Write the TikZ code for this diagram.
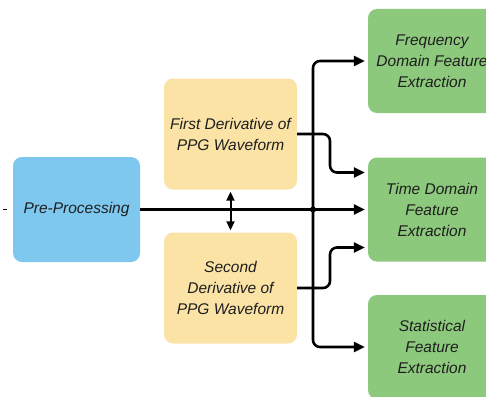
\documentclass[tikz,border=0pt]{standalone}
\usepackage{fontspec}
\setmainfont{Liberation Sans}
\usetikzlibrary{arrows.meta}

\definecolor{preblue}{RGB}{126,200,240}
\definecolor{derivyellow}{RGB}{251,227,166}
\definecolor{featgreen}{RGB}{141,201,124}
\definecolor{inkgray}{RGB}{30,30,30}

\tikzset{
  box/.style={rounded corners=9pt, inner sep=0pt, align=center,
    font=\fontsize{15.5}{21}\selectfont\itshape, text=inkgray},
  prebox/.style={box, fill=preblue, minimum width=127pt, minimum height=105pt},
  derivbox/.style={box, fill=derivyellow, minimum width=133pt, minimum height=111pt},
  featbox/.style={box, fill=featgreen, minimum width=128pt, minimum height=104pt},
  conn/.style={line width=2.6pt, draw=black, rounded corners=7pt,
    -{Triangle[length=11pt,width=10pt]}, shorten >=3pt},
  link/.style={line width=2.6pt, draw=black},
  twoway/.style={line width=2pt, draw=black,
    {Triangle[length=9pt,width=8pt]}-{Triangle[length=9pt,width=8pt]}}
}

\begin{document}
\begin{tikzpicture}[x=1pt,y=-1pt]
  \clip (0,0) rectangle (486,396);
  \fill[white] (0,0) rectangle (486,396);

  % processing stages
  \node[prebox] (pre) at (76.5,209.5) {Pre-Processing};
  \node[derivbox] (d1) at (230.5,134) {First Derivative of\\PPG Waveform};
  \node[derivbox] (d2) at (230.5,288) {Second\\Derivative of\\PPG Waveform};

  % feature extraction blocks (run off the right edge)
  \node[featbox] (freq) at (432,61) {Frequency\\Domain Feature\\Extraction};
  \node[featbox] (time) at (432,209.5) {Time Domain\\Feature\\Extraction};
  \node[featbox] (stat) at (432,347) {Statistical\\Feature\\Extraction};

  % branch point on the main line
  \coordinate (jn) at (313,209.5);
  \coordinate (stub) at (3,209.5);
  \coordinate (stubend) at (7,209.5);

  % short stub left of the pre-processing block
  \draw[line width=1pt] (stub) -- (stubend);

  % main line and its branches
  \draw[conn] (pre.east) -- (time.west);
  \draw[conn] (jn) |- (freq.west);
  \draw[conn] (jn) |- (stat.west);
  \fill (jn) circle (3pt);

  % derivative outputs
  \draw[conn] (d1.east) -- (330,134) |- ([yshift=37pt]time.west);
  \draw[conn] (d2.east) -- (330,288) |- ([yshift=-38pt]time.west);

  % link between the two derivatives
  \draw[twoway] ([yshift=-2pt]d1.south) -- ([yshift=2pt]d2.north);
\end{tikzpicture}
\end{document}
